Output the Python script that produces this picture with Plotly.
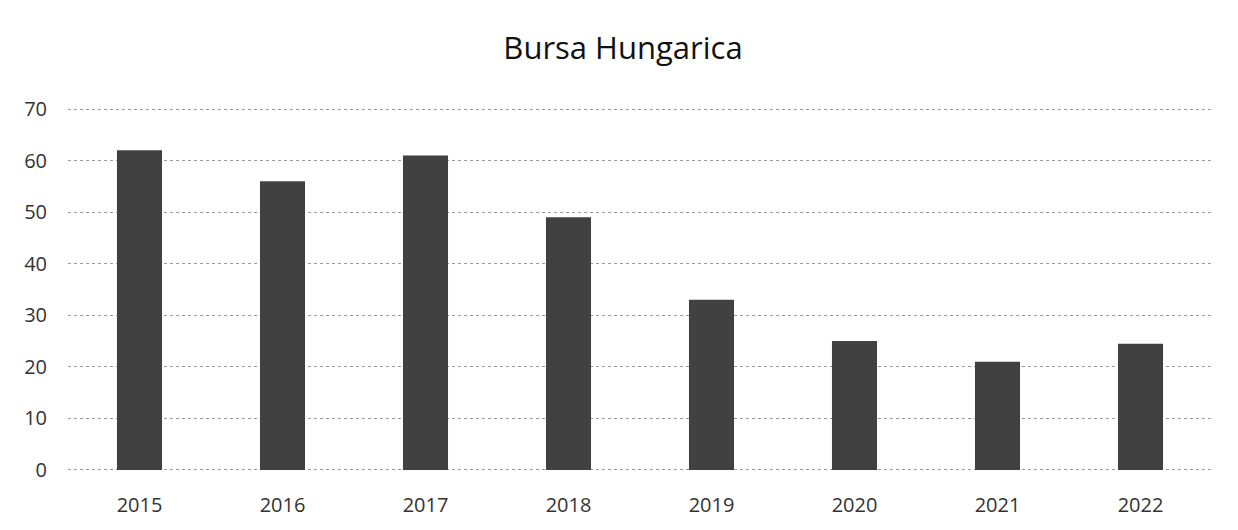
import plotly.graph_objects as go

years = ["2015", "2016", "2017", "2018", "2019", "2020", "2021", "2022"]
counts = [62, 56, 61, 49, 33, 25, 21, 24.5]
y_ticks = [0, 10, 20, 30, 40, 50, 60, 70]

fig = go.Figure(go.Bar(x=years, y=counts, marker_color="#414141",
                       marker_line_width=0))

# the page body keeps its 8px default margin, so the figure is a bit smaller
fig.update_layout(
    title=dict(text="Bursa Hungarica", x=0.5, xanchor="center",
               y=0.923, yanchor="middle",
               font=dict(family="Open Sans", size=31, color="#111")),
    width=1230, height=522,
    margin=dict(l=60, r=26, t=99, b=55),
    paper_bgcolor="white", plot_bgcolor="white",
    bargap=0.685,
    font=dict(family="Open Sans", size=20, color="#333"),
    showlegend=False,
)
fig.update_xaxes(showgrid=False, showline=False, ticks="", ticklabelstandoff=19)
# range padded a little so the 0 and 70 gridlines are drawn too
fig.update_yaxes(range=[-0.4, 70.4], tickvals=y_ticks, showgrid=True,
                 gridcolor="#9a9a9a", griddash="dot", gridwidth=1,
                 zeroline=False, ticklabelstandoff=20)

fig.write_html("out.html")
